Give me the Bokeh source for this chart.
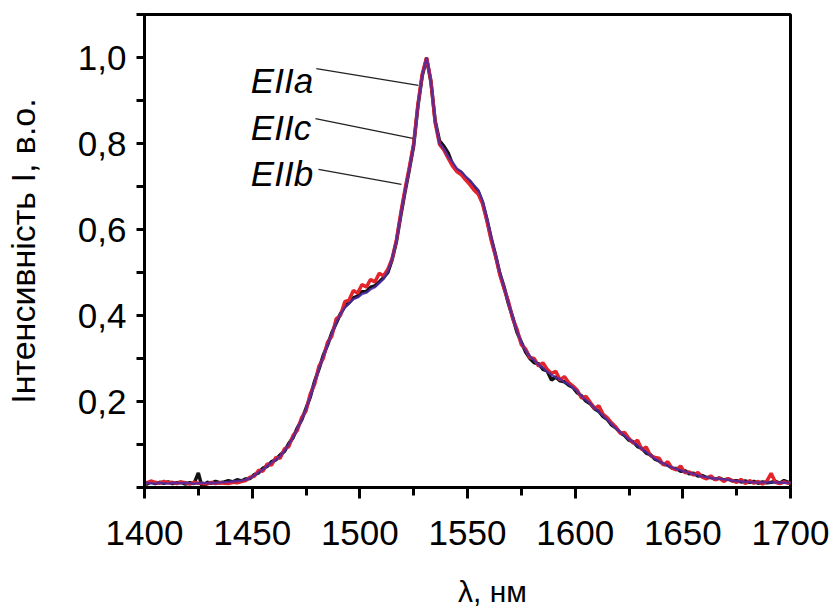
from bokeh.plotting import figure
from bokeh.models import Range1d, FixedTicker
from bokeh.core.properties import value
from bokeh.embed import file_html
from bokeh.resources import INLINE

# Wavelength grid, nm (1399 ... 1701, step 2)
wavelength = list(range(1399, 1702, 2))

# Normalised luminescence intensity for the three polarisations
intensity_a = [
    0.012, 0.008, 0.013, 0.009, 0.012, 0.010, 0.013, 0.009, 0.011, 0.012,
    0.008, 0.011, 0.009, 0.034, -0.004, 0.012, 0.010, 0.014, 0.011, 0.013,
    0.016, 0.013, 0.018, 0.015, 0.020, 0.021, 0.030, 0.034, 0.045, 0.049,
    0.060, 0.064, 0.076, 0.084, 0.102, 0.116, 0.139, 0.157, 0.184, 0.211,
    0.247, 0.275, 0.307, 0.331, 0.360, 0.382, 0.404, 0.421, 0.430, 0.441,
    0.445, 0.455, 0.456, 0.466, 0.469, 0.478, 0.488, 0.500, 0.530, 0.572,
    0.632, 0.688, 0.740, 0.795, 0.888, 0.958, 0.998, 0.944, 0.852, 0.806,
    0.794, 0.778, 0.752, 0.738, 0.733, 0.720, 0.712, 0.700, 0.688, 0.663,
    0.624, 0.580, 0.541, 0.498, 0.466, 0.428, 0.396, 0.361, 0.338, 0.315,
    0.300, 0.290, 0.288, 0.275, 0.271, 0.250, 0.257, 0.248, 0.246, 0.238,
    0.233, 0.220, 0.213, 0.201, 0.195, 0.183, 0.177, 0.165, 0.158, 0.145,
    0.138, 0.127, 0.121, 0.110, 0.106, 0.095, 0.091, 0.080, 0.076, 0.066,
    0.062, 0.054, 0.052, 0.045, 0.044, 0.038, 0.039, 0.032, 0.033, 0.027,
    0.028, 0.023, 0.024, 0.019, 0.022, 0.017, 0.020, 0.015, 0.016, 0.013,
    0.015, 0.012, 0.014, 0.010, 0.013, 0.011, 0.012, 0.014, 0.010, 0.016,
    0.012, 0.012,
]
intensity_c = [
    0.014, 0.011, 0.015, 0.012, 0.010, 0.014, 0.011, 0.012, 0.009, 0.013,
    0.011, 0.008, 0.012, 0.010, 0.009, 0.008, 0.012, 0.009, 0.011, 0.010,
    0.009, 0.012, 0.011, 0.014, 0.016, 0.024, 0.026, 0.040, 0.038, 0.055,
    0.052, 0.070, 0.068, 0.090, 0.095, 0.121, 0.133, 0.163, 0.178, 0.218,
    0.240, 0.282, 0.300, 0.338, 0.352, 0.392, 0.400, 0.432, 0.436, 0.458,
    0.452, 0.472, 0.466, 0.484, 0.478, 0.498, 0.492, 0.508, 0.532, 0.576,
    0.638, 0.694, 0.745, 0.800, 0.892, 0.962, 1.000, 0.946, 0.848, 0.798,
    0.785, 0.766, 0.748, 0.735, 0.728, 0.716, 0.705, 0.692, 0.682, 0.660,
    0.620, 0.575, 0.538, 0.495, 0.462, 0.433, 0.392, 0.368, 0.332, 0.322,
    0.302, 0.300, 0.282, 0.290, 0.275, 0.265, 0.270, 0.250, 0.258, 0.244,
    0.236, 0.226, 0.208, 0.212, 0.198, 0.184, 0.190, 0.170, 0.162, 0.150,
    0.140, 0.126, 0.128, 0.114, 0.103, 0.110, 0.088, 0.094, 0.074, 0.070,
    0.068, 0.052, 0.060, 0.045, 0.041, 0.050, 0.034, 0.036, 0.029, 0.035,
    0.024, 0.020, 0.027, 0.018, 0.022, 0.014, 0.021, 0.016, 0.012, 0.019,
    0.009, 0.016, 0.010, 0.014, 0.008, 0.015, 0.033, 0.012, 0.009, 0.013,
    0.010, 0.012,
]
intensity_b = [
    0.010, 0.011, 0.010, 0.009, 0.011, 0.010, 0.009, 0.011, 0.010, 0.010,
    0.011, 0.010, 0.009, 0.010, 0.011, 0.010, 0.011, 0.010, 0.012, 0.012,
    0.013, 0.014, 0.015, 0.016, 0.018, 0.022, 0.028, 0.035, 0.042, 0.050,
    0.058, 0.065, 0.073, 0.085, 0.100, 0.117, 0.137, 0.158, 0.182, 0.212,
    0.245, 0.276, 0.305, 0.332, 0.358, 0.383, 0.403, 0.418, 0.428, 0.438,
    0.442, 0.450, 0.453, 0.461, 0.466, 0.476, 0.485, 0.502, 0.533, 0.574,
    0.635, 0.690, 0.742, 0.797, 0.890, 0.960, 1.000, 0.945, 0.850, 0.800,
    0.788, 0.770, 0.757, 0.742, 0.735, 0.724, 0.715, 0.703, 0.692, 0.666,
    0.626, 0.582, 0.540, 0.500, 0.465, 0.430, 0.395, 0.363, 0.337, 0.318,
    0.305, 0.295, 0.286, 0.278, 0.269, 0.262, 0.256, 0.252, 0.245, 0.240,
    0.232, 0.224, 0.212, 0.203, 0.196, 0.185, 0.176, 0.167, 0.157, 0.147,
    0.137, 0.129, 0.120, 0.112, 0.105, 0.097, 0.090, 0.082, 0.075, 0.067,
    0.061, 0.056, 0.051, 0.047, 0.043, 0.040, 0.037, 0.034, 0.031, 0.028,
    0.026, 0.024, 0.022, 0.021, 0.020, 0.019, 0.018, 0.016, 0.015, 0.014,
    0.013, 0.013, 0.012, 0.012, 0.012, 0.012, 0.012, 0.012, 0.011, 0.011,
    0.011, 0.011,
]

# Axis ticks
x_ticks = [1400, 1450, 1500, 1550, 1600, 1650, 1700]
x_minor_ticks = [1425, 1475, 1525, 1575, 1625, 1675]
y_ticks = [0.0, 0.1, 0.2, 0.3, 0.4, 0.5, 0.6, 0.7, 0.8, 0.9, 1.0, 1.1]
y_tick_labels = ["", "", "0,2", "", "0,4", "", "0,6", "", "0,8", "", "1,0", ""]

# Curve captions with their leader lines (data coordinates)
caption_text = ["EIIa", "EIIc", "EIIb"]
caption_x = [1449.4, 1449.4, 1449.4]
caption_y = [0.946, 0.837, 0.730]
leader_x0 = [1479.8, 1479.4, 1480.8]
leader_y0 = [0.974, 0.858, 0.740]
leader_x1 = [1527.2, 1524.6, 1519.3]
leader_y1 = [0.935, 0.812, 0.705]

SANS = "Liberation Sans"
NBSP = "\u00a0"

p = figure(
    width=835, height=612,
    x_range=Range1d(1400, 1700), y_range=Range1d(0, 1.1),
    output_backend="svg", toolbar_location=None,
    min_border_left=140, min_border_right=45,
    min_border_top=14, min_border_bottom=125,
)
p.background_fill_color = "white"
p.border_fill_color = "white"
p.outline_line_color = "black"
p.outline_line_width = 3
p.xgrid.visible = False
p.ygrid.visible = False

# spectra
p.line(wavelength, intensity_a, line_color="#111111", line_width=3.5)
p.line(wavelength, intensity_c, line_color="#e3242b", line_width=3.5)
p.line(wavelength, intensity_b, line_color="#4a2aa8", line_width=2.4, line_alpha=0.85)

# captions
p.segment(leader_x0, leader_y0, leader_x1, leader_y1, line_color="#222222", line_width=1.2)
p.text(caption_x, caption_y, text=caption_text, text_font=value(SANS),
       text_font_style="italic", text_font_size="35px",
       text_baseline="alphabetic", text_align="left", text_color="black")

# x axis
xa = p.xaxis[0]
xa.ticker = FixedTicker(ticks=x_ticks, minor_ticks=x_minor_ticks)
xa.axis_line_width = 3
xa.major_tick_in = 0
xa.major_tick_out = 11
xa.minor_tick_in = 0
xa.minor_tick_out = 8
xa.major_tick_line_width = 3
xa.minor_tick_line_width = 3
xa.major_label_text_font = SANS
xa.major_label_text_font_size = "35px"
xa.major_label_text_color = "black"
xa.major_label_standoff = 22
xa.axis_label = NBSP * 6 + "λ, нм"
xa.axis_label_text_font = SANS
xa.axis_label_text_font_size = "30px"
xa.axis_label_text_font_style = "normal"
xa.axis_label_text_color = "black"
xa.axis_label_standoff = 27

# y axis
ya = p.yaxis[0]
ya.ticker = FixedTicker(ticks=y_ticks, minor_ticks=[])
ya.major_label_overrides = dict(zip(y_ticks, y_tick_labels))
ya.axis_line_width = 3
ya.major_tick_in = 0
ya.major_tick_out = 8
ya.major_tick_line_width = 3
ya.minor_tick_line_color = None
ya.major_label_text_font = SANS
ya.major_label_text_font_size = "35px"
ya.major_label_text_color = "black"
ya.major_label_standoff = 10
ya.axis_label = "Інтенсивність I, в.о."
ya.axis_label_text_font = SANS
ya.axis_label_text_font_size = "34px"
ya.axis_label_text_font_style = "normal"
ya.axis_label_text_color = "black"
ya.axis_label_standoff = 33

open("out.html", "w").write(file_html(p, INLINE))
